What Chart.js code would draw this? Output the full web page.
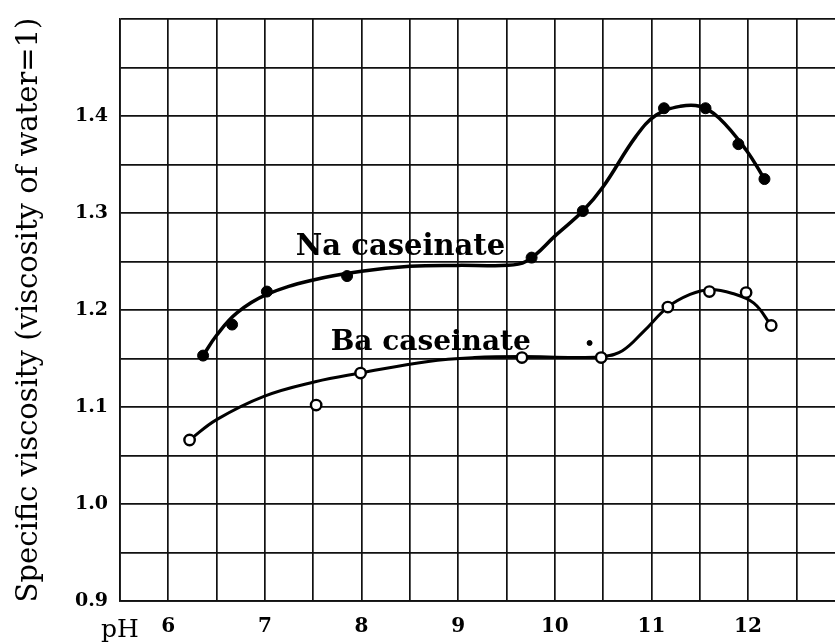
<!DOCTYPE html>
<html>
<head>
<meta charset="utf-8">
<script src="https://cdn.jsdelivr.net/npm/chart.js@4"></script>
<style>
  body { margin: 0; background: #fff; }
</style>
</head>
<body>
<canvas id="viscChart" width="835" height="644"></canvas>
<script>
// MEASURED POINTS

const naPh = [6.36, 6.66, 7.02, 7.85, 9.76, 10.29, 11.13, 11.56, 11.9, 12.17];
const naVisc = [1.153, 1.185, 1.219, 1.235, 1.254, 1.302, 1.408, 1.408, 1.371, 1.335];

const baPh = [6.22, 7.53, 7.99, 9.66, 10.48, 11.17, 11.6, 11.98, 12.24];
const baVisc = [1.066, 1.102, 1.135, 1.151, 1.151, 1.203, 1.219, 1.218, 1.184];

// stray ink mark near the Ba curve
const markPh = [10.36];
const markVisc = [1.166];

// DRAWN CURVES

const naCurvePh = [6.36, 6.5, 6.71, 7.02, 7.5, 8.0, 8.5, 9.0, 9.45, 9.7, 10.02, 10.29, 10.5, 10.84, 11.05, 11.3, 11.5, 11.7, 11.98, 12.17];
const naCurveVisc = [1.153, 1.174, 1.197, 1.216, 1.231, 1.24, 1.245, 1.246, 1.246, 1.25, 1.278, 1.302, 1.327, 1.379, 1.401, 1.41, 1.41, 1.398, 1.365, 1.335];

const baCurvePh = [6.22, 6.5, 6.99, 7.52, 7.99, 8.69, 9.17, 9.66, 10.2, 10.5, 10.7, 10.92, 11.17, 11.4, 11.6, 11.84, 12.06, 12.24];
const baCurveVisc = [1.066, 1.087, 1.111, 1.126, 1.135, 1.147, 1.151, 1.152, 1.151, 1.152, 1.158, 1.178, 1.203, 1.216, 1.221, 1.217, 1.207, 1.184];

// AXES

const xGridValues = [5.5, 6, 6.5, 7, 7.5, 8, 8.5, 9, 9.5, 10, 10.5, 11, 11.5, 12, 12.5];
const xLabelValues = [6, 7, 8, 9, 10, 11, 12];
const yLabelValues = [0.9, 1.0, 1.1, 1.2, 1.3, 1.4];

const toPoints = (xs, ys) => xs.map((x, i) => ({ x: x, y: ys[i] }));

const serif = "'DejaVu Serif', 'Liberation Serif', serif";

const noPadding = (scale) => {
  scale.paddingLeft = 0;
  scale.paddingRight = 0;
  scale.paddingTop = 0;
  scale.paddingBottom = 0;
};

const curveLabels = {
  id: "curveLabels",
  afterDatasetsDraw(chart) {
    const { ctx, scales } = chart;
    ctx.save();
    ctx.fillStyle = "#000";
    ctx.font = "bold 29px " + serif;
    ctx.textBaseline = "alphabetic";
    ctx.fillText("Na caseinate", scales.x.getPixelForValue(7.32), scales.y.getPixelForValue(1.2565));
    ctx.font = "bold 28px " + serif;
    ctx.fillText("Ba caseinate", scales.x.getPixelForValue(7.68), scales.y.getPixelForValue(1.1585));
    ctx.restore();
  },
};

new Chart(document.getElementById("viscChart"), {
  type: "scatter",
  data: {
    datasets: [
      {
        label: "Na caseinate",
        data: toPoints(naPh, naVisc),
        pointRadius: 5.5,
        backgroundColor: "#000",
        borderColor: "#000",
        borderWidth: 1,
      },
      {
        label: "Ba caseinate",
        data: toPoints(baPh, baVisc),
        pointRadius: 5.2,
        backgroundColor: "#fff",
        borderColor: "#000",
        borderWidth: 2.4,
      },
      {
        label: "mark",
        data: toPoints(markPh, markVisc),
        pointRadius: 2.5,
        backgroundColor: "#000",
        borderColor: "#000",
      },
      {
        label: "Na curve",
        type: "line",
        data: toPoints(naCurvePh, naCurveVisc),
        borderColor: "#000",
        borderWidth: 3.5,
        pointRadius: 0,
        tension: 0.4,
        fill: false,
      },
      {
        label: "Ba curve",
        type: "line",
        data: toPoints(baCurvePh, baCurveVisc),
        borderColor: "#000",
        borderWidth: 3,
        pointRadius: 0,
        tension: 0.4,
        fill: false,
      },
    ],
  },
  options: {
    responsive: false,
    animation: false,
    devicePixelRatio: 1,
    layout: { autoPadding: false, padding: { top: 19, right: 0, left: 0, bottom: 0 } },
    plugins: {
      legend: { display: false },
      tooltip: { enabled: false },
    },
    scales: {
      x: {
        type: "linear",
        min: 5.5,
        max: 12.9,
        afterBuildTicks: (scale) => {
          scale.ticks = xGridValues.map((v) => ({ value: v }));
        },
        afterFit: (scale) => {
          scale.height = 43;
          noPadding(scale);
        },
        grid: { color: "#111", lineWidth: 1.7, drawTicks: false },
        border: { color: "#111", width: 1.7 },
        ticks: {
          autoSkip: false,
          maxRotation: 0,
          padding: 14,
          color: "#000",
          font: (c) => (c.tick && c.tick.value === 5.5
            ? { family: serif, size: 25 }
            : { family: serif, size: 20, weight: "bold" }),
          callback: (value) => {
            if (value === 5.5) return "pH";
            return xLabelValues.includes(value) ? String(value) : "";
          },
        },
      },
      y: {
        min: 0.9,
        max: 1.5,
        afterFit: (scale) => {
          scale.width = 120;
          noPadding(scale);
        },
        grid: { color: "#111", lineWidth: 1.7, drawTicks: false },
        border: { color: "#111", width: 1.7 },
        title: {
          display: true,
          text: "Specific viscosity (viscosity of water=1)",
          color: "#000",
          font: { family: serif, size: 29 },
          padding: { top: 12, bottom: 0 },
        },
        ticks: {
          stepSize: 0.05,
          padding: 12,
          color: "#000",
          font: { family: serif, size: 19, weight: "bold" },
          callback: (value) => {
            const v = Math.round(value * 100) / 100;
            return yLabelValues.includes(v) ? v.toFixed(1) : "";
          },
        },
      },
    },
  },
  plugins: [curveLabels],
});
</script>
</body>
</html>
